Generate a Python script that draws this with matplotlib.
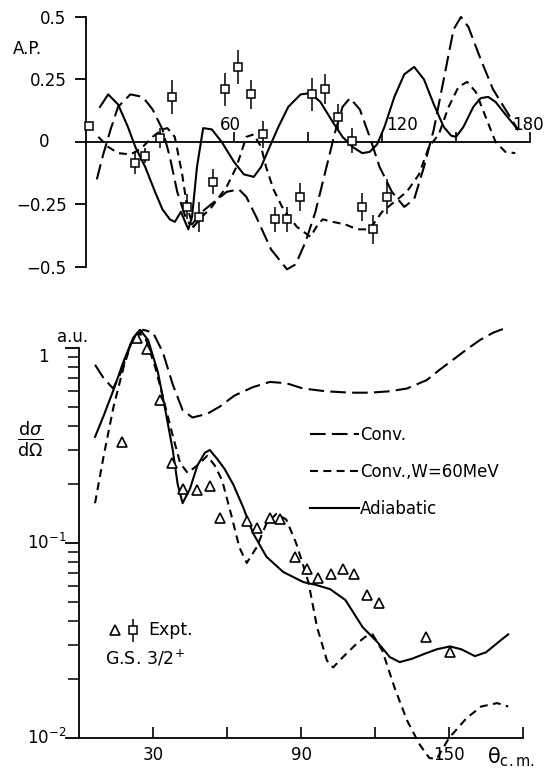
import matplotlib
matplotlib.use('Agg')
import matplotlib.pyplot as plt
import numpy as np

plt.rcParams['font.family'] = ['DejaVu Sans']
plt.rcParams['mathtext.fontset'] = 'dejavusans'

# ---- top panel: analysing power ----
th_ad_top = [5.7, 9, 13, 17, 20, 24, 28, 31, 34, 36, 38.5, 41.5, 43, 45, 47.5, 51, 55, 60, 64, 68, 71,
             74, 78, 82, 87, 91, 95, 100, 104, 108, 112, 115, 118, 121, 125, 129, 133, 137, 141, 145,
             148, 150, 153, 157, 160, 163, 166, 170, 175]
ap_ad = [0.14, 0.19, 0.15, 0.06, -0.02, -0.1, -0.2, -0.27, -0.31, -0.32, -0.28, -0.35, -0.3, -0.1, 0.055,
         0.05, 0.0, -0.08, -0.13, -0.14, -0.1, -0.03, 0.06, 0.14, 0.19, 0.195, 0.16, 0.08, 0.02, -0.02,
         -0.045, -0.04, -0.01, 0.06, 0.18, 0.27, 0.3, 0.25, 0.15, 0.06, 0.025, 0.02, 0.06, 0.14, 0.175,
         0.18, 0.16, 0.11, 0.05]

th_cv_top = [4.4, 7, 10, 13, 18, 23, 27, 31, 34, 37, 41, 43, 47, 52, 57, 62, 65, 69, 75, 81.5, 85, 89,
             93, 97, 101, 104, 107, 111, 115, 119, 124, 129, 133, 137, 141, 145, 149, 152, 155, 160,
             165, 170, 175]
ap_cv = [-0.15, -0.05, 0.05, 0.14, 0.19, 0.18, 0.13, 0.05, -0.06, -0.2, -0.32, -0.33, -0.28, -0.24,
         -0.2, -0.19, -0.22, -0.3, -0.43, -0.51, -0.49, -0.4, -0.28, -0.12, 0.04, 0.14, 0.175, 0.13,
         0.02, -0.1, -0.2, -0.26, -0.23, -0.1, 0.05, 0.25, 0.45, 0.5, 0.46, 0.33, 0.21, 0.13, 0.05]

th_w60_top = [5, 9, 13, 18, 22, 27, 31, 33, 36, 39, 41, 43.5, 47, 51, 57, 61, 65, 68, 71, 73, 76, 80,
              85.5, 91, 94, 96, 100, 105, 110, 115, 120, 125, 130, 135, 139, 143, 147, 151, 154.5, 158,
              162, 166, 170, 174]
ap_w60 = [0.02, -0.02, -0.045, -0.05, -0.03, 0.02, 0.05, 0.055, 0.02, -0.13, -0.26, -0.34, -0.3, -0.26,
          -0.18, -0.1, 0.02, 0.03, -0.02, -0.1, -0.19, -0.27, -0.34, -0.38, -0.33, -0.31, -0.32, -0.33,
          -0.35, -0.35, -0.28, -0.24, -0.2, -0.13, -0.02, 0.03, 0.14, 0.22, 0.24, 0.2, 0.1, 0.0, -0.04,
          -0.045]

th_ap_exp = [1.3, 20, 24, 30, 35, 41, 46, 51.6, 56.5, 61.6, 66.7, 71.8, 76.5, 81.5, 86.8, 91.7, 96.9,
             102, 107.8, 112, 116.4, 122]
ap_exp = [0.064, -0.083, -0.056, 0.016, 0.18, -0.26, -0.3, -0.16, 0.21, 0.3, 0.19, 0.03, -0.31, -0.31,
          -0.22, 0.19, 0.21, 0.1, 0.004, -0.26, -0.35, -0.22]
ap_err = [0, 0.044, 0.03, 0.04, 0.067, 0.05, 0.06, 0.05, 0.067, 0.067, 0.057, 0.053, 0.05, 0.05, 0.057,
          0.067, 0.06, 0.05, 0.05, 0.057, 0.057, 0.07]

# ---- bottom panel: cross section (a.u.) ----
th_cv_bot = [6.5, 10, 13.8, 17, 21, 26, 30, 34, 38, 42, 46, 52, 57, 63, 70.5, 77.4, 84, 90.8, 100, 110,
             118, 126, 133, 141, 146, 151.6, 157, 162.6, 168, 174]
xs_cv = [0.82, 0.7, 0.62, 0.75, 1.05, 1.24, 1.2, 0.95, 0.65, 0.48, 0.44, 0.46, 0.5, 0.57, 0.63, 0.67,
         0.66, 0.62, 0.6, 0.59, 0.59, 0.6, 0.62, 0.685, 0.77, 0.87, 0.98, 1.1, 1.2, 1.28]

th_w60_bot = [6.5, 10, 14, 18, 21, 24, 27, 31, 35, 38, 41, 44, 48, 52, 55, 58, 62, 65, 68, 72, 76, 80,
              84, 88, 91, 93, 96.5, 100.5, 103, 107, 112, 116, 119, 123, 128, 133, 138, 142, 145, 150,
              157, 163, 169.5, 174]
xs_w60 = [0.16, 0.28, 0.5, 0.79, 1.05, 1.2, 1.12, 0.79, 0.5, 0.355, 0.257, 0.229, 0.25, 0.28, 0.25,
          0.21, 0.135, 0.095, 0.079, 0.095, 0.126, 0.141, 0.132, 0.1, 0.076, 0.063, 0.037, 0.025, 0.023,
          0.026, 0.03, 0.033, 0.034, 0.028, 0.018, 0.0123, 0.0093, 0.0079, 0.0078, 0.01, 0.0126, 0.0145,
          0.0151, 0.0145]

th_ad_bot = [6.5, 10, 14, 18, 22, 24.7, 28, 32, 35, 38, 40, 42, 45, 48, 51, 53, 56, 59, 62.5, 66.5,
             70.6, 76, 82.8, 91, 96, 101.8, 108, 115, 121, 126, 130, 135, 140, 145, 150.4, 155, 160.5,
             165, 170, 174]
xs_ad = [0.35, 0.45, 0.61, 0.85, 1.13, 1.24, 1.1, 0.75, 0.48, 0.3, 0.2, 0.16, 0.19, 0.25, 0.29, 0.3,
         0.27, 0.24, 0.2, 0.153, 0.112, 0.085, 0.071, 0.063, 0.061, 0.058, 0.051, 0.037, 0.031, 0.026,
         0.0245, 0.0255, 0.027, 0.0285, 0.0295, 0.0285, 0.0263, 0.0275, 0.031, 0.034]

th_xs_exp = [17.4, 23.5, 27.6, 32.8, 37.7, 42.2, 47.8, 53, 57.2, 68, 72, 77.4, 81.5, 87.6, 92.4, 97,
             102, 107, 111.5, 116.8, 121.6, 140.7, 150.4]
xs_exp = [0.33, 1.12, 0.99, 0.54, 0.257, 0.19, 0.186, 0.195, 0.135, 0.129, 0.12, 0.135, 0.132, 0.085,
          0.074, 0.066, 0.069, 0.074, 0.069, 0.054, 0.049, 0.033, 0.0275]

ytick_top = [-0.5, -0.25, 0, 0.25, 0.5]
ytick_top_lbl = ['\u22120.5', '\u22120.25', '', '0.25', '0.5']

LW = 1.5
LONG = (7.5, 3.0)
SHORT = (3.8, 2.6)

fig = plt.figure(figsize=(5.51, 7.69), dpi=100)

ax1 = fig.add_axes([0.156, 0.653, 0.806, 0.325])
ax1.plot(th_ad_top, ap_ad, color='black', lw=LW, clip_on=False)
ax1.plot(th_cv_top, ap_cv, color='black', lw=LW, dashes=LONG, clip_on=False)
ax1.plot(th_w60_top, ap_w60, color='black', lw=LW, dashes=SHORT, clip_on=False)
ax1.errorbar(th_ap_exp, ap_exp, yerr=ap_err, fmt='s', ms=5.5, mfc='white', mec='black', mew=1.1,
             ecolor='black', elinewidth=1.1, capsize=0, clip_on=False, zorder=5)
ax1.set_xlim(0, 180)
ax1.set_ylim(-0.5, 0.5)
ax1.spines['top'].set_visible(False)
ax1.spines['right'].set_visible(False)
ax1.spines['bottom'].set_position(('data', 0))
ax1.spines['left'].set_linewidth(1.3)
ax1.spines['bottom'].set_linewidth(1.3)
ax1.set_yticks(ytick_top)
ax1.set_yticklabels(ytick_top_lbl, fontsize=12)
ax1.tick_params(axis='y', direction='out', length=8, width=1.3, pad=6)
ax1.set_xticks([30, 60, 90, 120, 150, 180])
ax1.set_xticklabels([])
ax1.tick_params(axis='x', direction='in', length=7, width=1.2)
ax1.text(-0.095, 0.0, '0', transform=ax1.get_yaxis_transform(), fontsize=12, ha='center', va='center')
ax1.text(58.4, 0.03, '60', fontsize=12, ha='center', va='bottom')
ax1.text(121.5, 0.03, '120', fontsize=12, ha='left', va='bottom')
ax1.text(179, 0.03, '180', fontsize=12, ha='center', va='bottom')
ax1.text(-0.165, 0.85, 'A.P.', transform=ax1.transAxes, fontsize=12)

# ---- bottom ----
ax2 = fig.add_axes([0.1434, 0.0403, 0.8058, 0.5452])
l1, = ax2.plot(th_cv_bot, xs_cv, color='black', lw=LW, dashes=LONG, clip_on=False)
l2, = ax2.plot(th_w60_bot, xs_w60, color='black', lw=LW, dashes=SHORT, clip_on=False)
l3, = ax2.plot(th_ad_bot, xs_ad, color='black', lw=LW, clip_on=False)
ax2.plot(th_xs_exp, xs_exp, '^', ms=7, mfc='white', mec='black', mew=1.2, clip_on=False, zorder=5)
ax2.set_yscale('log')
ax2.set_xlim(0, 180)
ax2.set_ylim(0.01, 10 ** 0.15)
ax2.spines['top'].set_visible(False)
ax2.spines['right'].set_visible(False)
ax2.spines['left'].set_bounds(0.01, 1)
ax2.spines['left'].set_linewidth(1.3)
ax2.spines['bottom'].set_linewidth(1.3)
ax2.set_yticks([0.01, 0.1, 1])
ax2.set_yticklabels([])
ax2.tick_params(axis='y', which='major', direction='out', length=10, width=1.3)
ax2.tick_params(axis='y', which='minor', direction='out', length=8, width=1.1)
ax2.set_xticks([30, 60, 90, 120, 150, 180])
ax2.set_xticklabels(['30', '', '90', '', '150', ''], fontsize=12)
ax2.tick_params(axis='x', direction='in', length=8, width=1.2, pad=6)

ytr = ax2.get_yaxis_transform()
ax2.text(-0.08, 1.0, '1', transform=ytr, fontsize=12, ha='center', va='top')
ax2.text(-0.028, 0.1, r'$10^{-1}$', transform=ytr, fontsize=12, ha='right', va='center')
ax2.text(-0.028, 0.01, r'$10^{-2}$', transform=ytr, fontsize=12, ha='right', va='center')
ax2.text(-0.05, 1.02, 'a.u.', transform=ytr, fontsize=12, ha='left', va='bottom')
ax2.text(-0.11, 0.34, r'$\frac{\mathrm{d}\sigma}{\mathrm{d}\Omega}$', transform=ytr, fontsize=18,
         ha='center', va='center')
ax2.text(0.92, -0.045, r'$\mathrm{\theta}_{\rm c.m.}$', transform=ax2.transAxes, fontsize=15,
         ha='left', va='center')

ax2.legend([l1, l2, l3], ['Conv.', 'Conv.,W=60MeV', 'Adiabatic'], loc='upper left',
           bbox_to_anchor=(0.487, 0.78), frameon=False, fontsize=12, handlelength=2.9,
           handletextpad=0.1, labelspacing=1.15)

ax2.plot([0.082], [0.257], '^', transform=ax2.transAxes, ms=6.5, mfc='white', mec='black', mew=1.2,
         clip_on=False)
ax2.errorbar([0.122], [0.257], yerr=[0.028], fmt='s', transform=ax2.transAxes, ms=5.5, mfc='white',
             mec='black', mew=1.1, ecolor='black', elinewidth=1.1, clip_on=False)
ax2.text(0.155, 0.257, 'Expt.', transform=ax2.transAxes, fontsize=12.5, ha='left', va='center')
ax2.text(0.058, 0.19, r'G.S. $3/2^{+}$', transform=ax2.transAxes, fontsize=12.5, ha='left', va='center')

fig.savefig('out.png', dpi=100)
